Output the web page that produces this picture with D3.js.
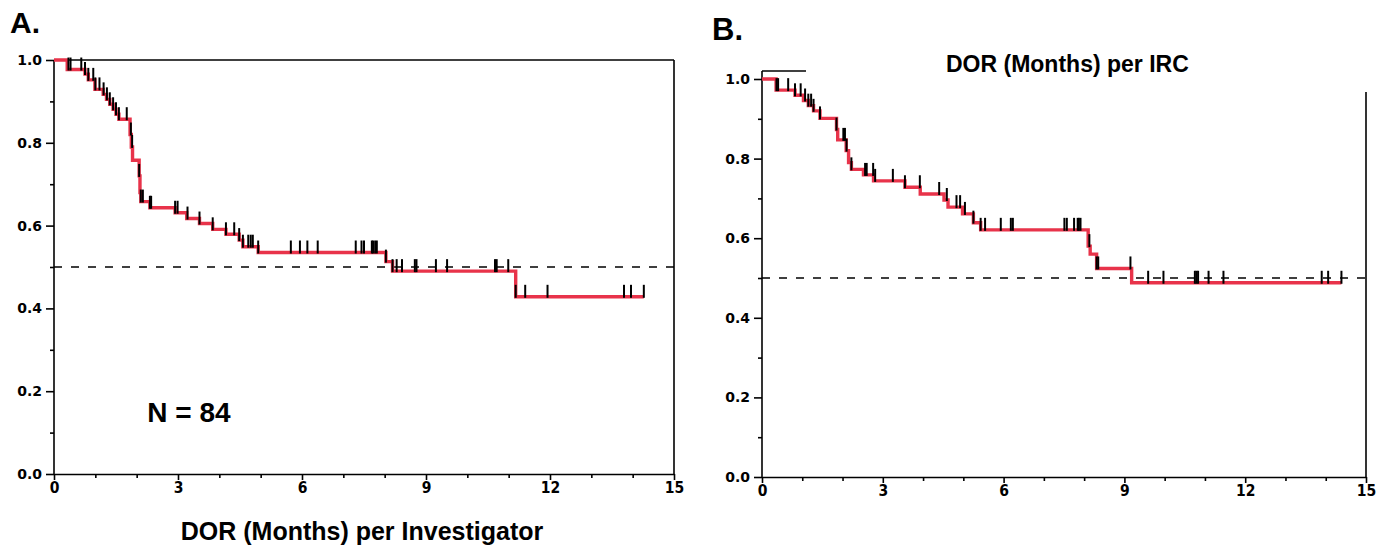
<!DOCTYPE html>
<html>
<head>
<meta charset="utf-8">
<script src="https://cdn.jsdelivr.net/npm/d3@7"></script>
<style>
  body { margin: 0; background: #fff; }
  svg { display: block; }
  .domain, .tick line { stroke: #000; stroke-width: 1.6; }
</style>
</head>
<body>
<script>
// panel A: KM steps (month, survival) per investigator
const stepsA = [
  [0, 1.0], [0.32, 0.977], [0.75, 0.966], [0.83, 0.952], [0.99, 0.929],
  [1.19, 0.917], [1.27, 0.905], [1.35, 0.893], [1.43, 0.881], [1.5, 0.869], [1.57, 0.857],
  [1.84, 0.82], [1.87, 0.79], [1.9, 0.758], [2.06, 0.72], [2.08, 0.68], [2.1, 0.658],
  [2.32, 0.643], [2.93, 0.631], [3.21, 0.617], [3.52, 0.605], [3.84, 0.591],
  [4.16, 0.579], [4.48, 0.565], [4.57, 0.549], [4.94, 0.535], [8.03, 0.513],
  [8.19, 0.49], [11.17, 0.428]
]
const endA = 14.27
const censorA = [
  0.35, 0.4, 0.66, 0.75, 0.83, 0.95, 1.0, 1.1, 1.2, 1.28, 1.35, 1.43, 1.5, 1.57, 1.76,
  1.86, 1.89, 2.06, 2.1, 2.15, 2.32, 2.35, 2.93, 2.99, 3.23, 3.52, 3.84, 4.16, 4.36,
  4.48, 4.57, 4.7, 4.76, 4.81, 4.94, 5.73, 5.95, 6.13, 6.38, 7.3, 7.44, 7.5, 7.69,
  7.72, 7.77, 7.81, 8.03, 8.19, 8.29, 8.42, 8.73, 8.77, 9.24, 9.51, 10.67, 10.71,
  10.99, 11.17, 11.4, 11.94, 13.79, 13.96, 14.27
]

// panel B: KM steps per IRC
const stepsB = [
  [0, 1.0], [0.35, 0.972], [0.82, 0.959], [1.03, 0.946], [1.15, 0.933], [1.28, 0.92],
  [1.44, 0.901], [1.85, 0.873], [1.88, 0.847], [2.09, 0.82], [2.15, 0.79], [2.22, 0.773],
  [2.52, 0.759], [2.77, 0.744], [3.55, 0.728], [3.93, 0.711], [4.52, 0.696],
  [4.62, 0.678], [4.98, 0.661], [5.25, 0.639], [5.43, 0.621], [8.1, 0.58],
  [8.15, 0.56], [8.31, 0.524], [9.18, 0.488]
]
const endB = 14.39
const censorB = [
  0.36, 0.4, 0.65, 0.82, 0.96, 1.07, 1.15, 1.22, 1.28, 1.44, 1.85, 2.02, 2.06, 2.1,
  2.22, 2.56, 2.6, 2.76, 2.81, 3.25, 3.55, 3.92, 4.4, 4.59, 4.83, 4.92, 5.04, 5.25,
  5.43, 5.54, 5.93, 6.18, 6.23, 7.51, 7.57, 7.75, 7.84, 7.87, 7.91, 8.13, 8.31, 8.35,
  9.15, 9.59, 9.97, 10.75, 10.79, 10.83, 11.09, 11.46, 13.9, 14.06, 14.39
]

const xMajor = [0, 3, 6, 9, 12, 15]
const xMinor = [1, 2, 4, 5, 7, 8, 10, 11, 13, 14]
const yMajor = [0, 0.2, 0.4, 0.6, 0.8, 1.0]
const yMinor = [0.1, 0.3, 0.5, 0.7, 0.9]

const red = '#e8334a'

const svg = d3.select('body').append('svg')
  .attr('width', 1388)
  .attr('height', 556)

function survAt(steps, t) {
  let s = steps[0][1]
  for (const st of steps) if (st[0] <= t + 1e-9) s = st[1]
  return s
}

function panel(opts) {
  const x = d3.scaleLinear().domain([0, 15]).range([opts.left, opts.right])
  const y = d3.scaleLinear().domain([0, 1]).range([opts.bottom, opts.top])
  const g = svg.append('g')

  // minor ticks
  g.append('g').attr('transform', `translate(0,${opts.bottom})`)
    .call(d3.axisBottom(x).tickValues(xMinor).tickSize(4).tickFormat(''))
    .call(a => a.select('.domain').remove())
  g.append('g').attr('transform', `translate(${opts.left},0)`)
    .call(d3.axisLeft(y).tickValues(yMinor).tickSize(4).tickFormat(''))
    .call(a => a.select('.domain').remove())

  g.append('g').attr('transform', `translate(0,${opts.bottom})`)
    .call(d3.axisBottom(x).tickValues(xMajor).tickSize(6).tickSizeOuter(0).tickPadding(2))
    .call(a => a.selectAll('text')
      .attr('font-family', "'DejaVu Sans Condensed', 'DejaVu Sans', sans-serif")
      .attr('font-weight', 'bold').attr('font-size', 15.5).attr('fill', '#000'))
  g.append('g').attr('transform', `translate(${opts.left},0)`)
    .call(d3.axisLeft(y).tickValues(yMajor).tickSize(8).tickSizeOuter(0).tickFormat(d3.format('.1f')).tickPadding(4))
    .call(a => a.select('.domain').remove())
    .call(a => a.selectAll('text')
      .attr('font-family', "'DejaVu Sans', sans-serif")
      .attr('font-weight', 'bold').attr('font-size', 14).attr('fill', '#000'))
  g.append('line')
    .attr('x1', opts.left).attr('x2', opts.left)
    .attr('y1', opts.axisTop).attr('y2', opts.bottom)
    .attr('stroke', '#000').attr('stroke-width', 1.6)

  // frame pieces
  g.append('line')
    .attr('x1', opts.left).attr('x2', opts.frameTopEnd)
    .attr('y1', opts.axisTop).attr('y2', opts.axisTop)
    .attr('stroke', '#000').attr('stroke-width', 1.6)
  g.append('line')
    .attr('x1', opts.right).attr('x2', opts.right)
    .attr('y1', opts.rightTop).attr('y2', opts.bottom)
    .attr('stroke', '#000').attr('stroke-width', 1.6)

  // median reference
  g.append('line')
    .attr('x1', x(0)).attr('x2', x(15))
    .attr('y1', y(0.5)).attr('y2', y(0.5))
    .attr('stroke', '#000').attr('stroke-width', 1.5)
    .attr('stroke-dasharray', '8,9')

  const pts = opts.steps.concat([[opts.end, opts.steps[opts.steps.length - 1][1]]])
  const line = d3.line()
    .x(d => x(d[0]))
    .y(d => y(d[1]))
    .curve(d3.curveStepAfter)
  g.append('path')
    .datum(pts)
    .attr('d', line)
    .attr('fill', 'none')
    .attr('stroke', red)
    .attr('stroke-width', 3.4)

  g.selectAll('.cens')
    .data(opts.censor)
    .join('line')
    .attr('x1', d => x(d)).attr('x2', d => x(d))
    .attr('y1', d => y(survAt(opts.steps, d)) + 1)
    .attr('y2', d => y(survAt(opts.steps, d)) - 12)
    .attr('stroke', '#000').attr('stroke-width', 2)
}

panel({
  left: 54, right: 674, top: 60, bottom: 474, axisTop: 60, frameTopEnd: 674, rightTop: 60,
  steps: stepsA, end: endA, censor: censorA
})
panel({
  left: 762, right: 1366, top: 79, bottom: 477, axisTop: 71, frameTopEnd: 806, rightTop: 92,
  steps: stepsB, end: endB, censor: censorB
})

const bold = 'Liberation Sans, Arial, sans-serif'
svg.append('text').attr('x', 10).attr('y', 33).text('A.')
  .attr('font-family', bold).attr('font-weight', 'bold').attr('font-size', 30)
svg.append('text').attr('x', 712).attr('y', 40).text('B.')
  .attr('font-family', bold).attr('font-weight', 'bold').attr('font-size', 31)
svg.append('text').attr('x', 189).attr('y', 422).text('N = 84')
  .attr('text-anchor', 'middle')
  .attr('font-family', bold).attr('font-weight', 'bold').attr('font-size', 28)
svg.append('text').attr('x', 362).attr('y', 540).text('DOR (Months) per Investigator')
  .attr('text-anchor', 'middle')
  .attr('font-family', bold).attr('font-weight', 'bold').attr('font-size', 25)
svg.append('text').attr('x', 946).attr('y', 72).text('DOR (Months) per IRC')
  .attr('font-family', bold).attr('font-weight', 'bold').attr('font-size', 23)
</script>
</body>
</html>
